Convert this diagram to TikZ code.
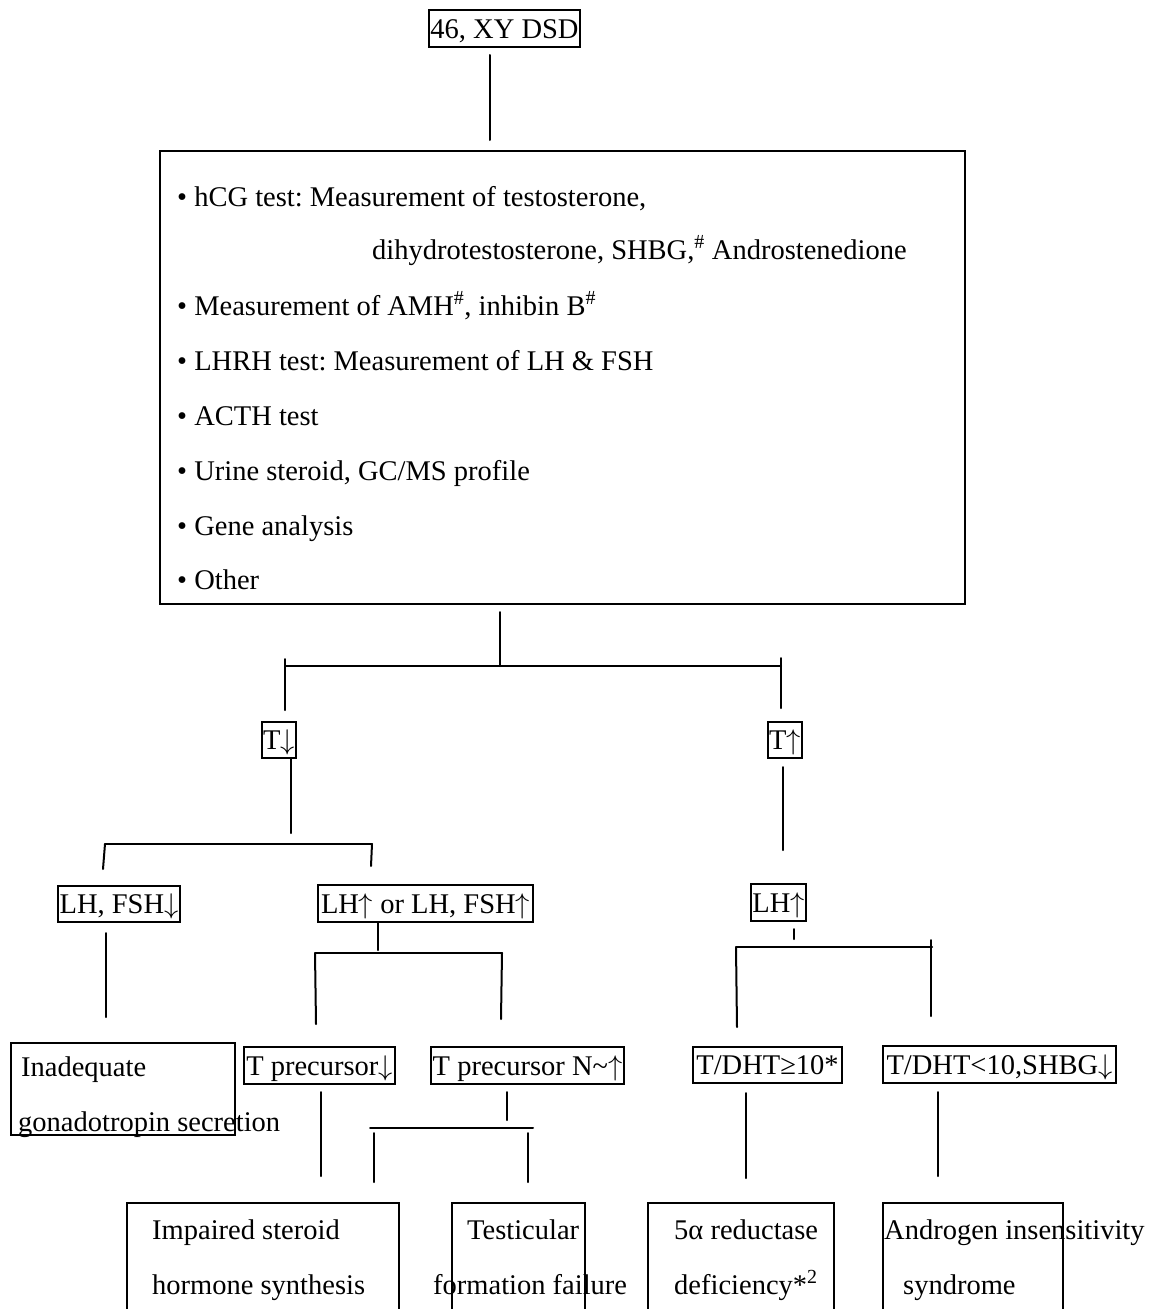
\RequirePackage{fix-cm}
\documentclass[tikz,border=0pt]{standalone}
\usepackage{fontspec}
\setmainfont{Liberation Serif}
\newcommand{\dn}{\ensuremath{\big\downarrow}}
\newcommand{\upa}{\ensuremath{\big\uparrow}}
\begin{document}
\frenchspacing
\begin{tikzpicture}[x=1pt,y=-1pt,
  ln/.style={line width=2pt, line cap=round},
  box/.style={draw, line width=2pt, inner sep=0pt, text height=22pt, text depth=3pt,
    font=\fontsize{28.5}{34}\selectfont},
  emptybox/.style={draw=none, inner sep=0pt},
  txt/.style={inner sep=0pt, anchor=base west, font=\fontsize{28.5}{34}\selectfont}]
\useasboundingbox (0,0) rectangle (1151,1309);
\clip (0,0) rectangle (1151,1309);

% ---------- top ----------
\node[box, minimum width=151, minimum height=37] (top) at (504.5,28.5) {46, XY DSD};

% ---------- tests box ----------
\node[box, minimum width=805, minimum height=453] (tests) at (562.5,377.5) {};
\node[txt] (l1) at (177,206) {• hCG test: Measurement of testosterone,};
\node[txt] (l2) at (372,259) {dihydrotestosterone, SHBG,\textsuperscript{\#} Androstenedione};
\node[txt] (l3) at (177,315) {• Measurement of AMH\textsuperscript{\#}, inhibin B\textsuperscript{\#}};
\node[txt] (l4) at (177,370) {• LHRH test: Measurement of LH \& FSH};
\node[txt] (l5) at (177,425) {• ACTH test};
\node[txt] (l6) at (177,480) {• Urine steroid, GC/MS profile};
\node[txt] (l7) at (177,535) {• Gene analysis};
\node[txt] (l8) at (177,589) {• Other};

% ---------- level T ----------
\node[box, minimum width=34, minimum height=36] (tlow) at (279,740) {T\dn};
\node[box, minimum width=34, minimum height=36] (thigh) at (785,740) {T\upa};

% ---------- level LH ----------
\node[box, minimum width=122, minimum height=36] (lhlow) at (119,904) {LH, FSH\dn};
\node[box, minimum width=215, minimum height=37] (lhup) at (425.5,903.5) {LH\upa{} or LH, FSH\upa};
\node[box, minimum width=55, minimum height=37] (lhr) at (778.5,902.5) {LH\upa};

% ---------- level 4 ----------
\node[box, minimum width=224, minimum height=92] (inad) at (123,1089) {};
\node[txt] (inad1) at (21,1076) {Inadequate};
\node[txt] (inad2) at (18,1131) {gonadotropin secretion};
\node[box, minimum width=151, minimum height=37] (tpl) at (319.5,1065.5) {T precursor\dn};
\node[box, minimum width=193, minimum height=37] (tpn) at (527.5,1065.5) {T precursor N\char"007E\upa};
\node[box, minimum width=149, minimum height=36] (dhtge) at (767.5,1065) {T/DHT≥10*};
\node[box, minimum width=233, minimum height=37] (dhtlt) at (999.5,1064.5) {T/DHT<10,SHBG\dn};

% ---------- bottom boxes (cut at bottom edge) ----------
\node[emptybox, minimum width=272, minimum height=117] (imp) at (263,1261.5) {};
\node[emptybox, minimum width=133, minimum height=117] (tfail) at (518.5,1261.5) {};
\node[emptybox, minimum width=186, minimum height=117] (red) at (741,1261.5) {};
\node[emptybox, minimum width=180, minimum height=117] (ais) at (973,1261.5) {};
\foreach \b in {imp,tfail,red,ais}
  \draw[ln, line cap=butt] (\b.south west) -- (\b.north west) -- (\b.north east) -- (\b.south east);
\node[txt] (imp1) at (152,1239) {Impaired steroid};
\node[txt] (imp2) at (152,1294) {hormone synthesis};
\node[txt] (tf1) at (467,1239) {Testicular};
\node[txt] (tf2) at (433,1294) {formation failure};
\node[txt] (red1) at (674,1239) {5α reductase};
\node[txt] (red2) at (674,1294) {deficiency*\textsuperscript{2}};
\node[txt] (ais1) at (884,1239) {Androgen insensitivity};
\node[txt] (ais2) at (903,1294) {syndrome};

% ---------- connector coordinates ----------
\coordinate (a1) at (490,55);   \coordinate (a2) at (490,140);
\coordinate (b1) at (500,612);  \coordinate (b2) at (500,666);
\coordinate (bl) at (285,666);  \coordinate (br) at (781,666);
\coordinate (blt) at (285,659); \coordinate (bld) at (285,710);
\coordinate (brt) at (781,658); \coordinate (brd) at (781,708);
\coordinate (c1) at (291,758);  \coordinate (c2) at (291,833);
\coordinate (cl) at (105,844);  \coordinate (cr) at (372,844);
\coordinate (cld) at (103,869); \coordinate (crd) at (371,866);
\coordinate (d1) at (783,767);  \coordinate (d2) at (783,850);
\coordinate (e1) at (105.5,933); \coordinate (e2) at (105.5,1017);
\coordinate (f1) at (378,922);  \coordinate (f2) at (378,950);
\coordinate (fl) at (315,953);  \coordinate (fr) at (502,953);
\coordinate (fld) at (316,1024); \coordinate (frd) at (501,1019);
\coordinate (g1) at (794,929);  \coordinate (g2) at (794,939);
\coordinate (gl) at (736,947);  \coordinate (gr) at (932,947);
\coordinate (gld) at (737,1027); \coordinate (grt) at (931,940); \coordinate (grd) at (931,1016);
\coordinate (h1) at (321,1092); \coordinate (h2) at (321,1176);
\coordinate (i1) at (507,1092); \coordinate (i2) at (507,1120);
\coordinate (il) at (370,1128); \coordinate (ir) at (533,1128);
\coordinate (ilt) at (374,1133); \coordinate (ild) at (374,1182);
\coordinate (irt) at (528,1133); \coordinate (ird) at (528,1182);
\coordinate (j1) at (746,1093); \coordinate (j2) at (746,1178);
\coordinate (k1) at (938,1092); \coordinate (k2) at (938,1176);

% ---------- connectors ----------
\draw[ln] (a1) -- (a2);
\draw[ln] (b1) -- (b2);
\draw[ln] (bl) -- (br);
\draw[ln] (blt) -- (bld);
\draw[ln] (brt) -- (brd);
\draw[ln] (c1) -- (c2);
\draw[ln] (cl) -- (cr);
\draw[ln] (cl) -- (cld);
\draw[ln] (cr) -- (crd);
\draw[ln] (d1) -- (d2);
\draw[ln] (e1) -- (e2);
\draw[ln] (f1) -- (f2);
\draw[ln] (fl) -- (fr);
\draw[ln] (fl) -- (fld);
\draw[ln] (fr) -- (frd);
\draw[ln] (g1) -- (g2);
\draw[ln] (gl) -- (gr);
\draw[ln] (gl) -- (gld);
\draw[ln] (grt) -- (grd);
\draw[ln] (h1) -- (h2);
\draw[ln] (i1) -- (i2);
\draw[ln] (il) -- (ir);
\draw[ln] (ilt) -- (ild);
\draw[ln] (irt) -- (ird);
\draw[ln] (j1) -- (j2);
\draw[ln] (k1) -- (k2);
\end{tikzpicture}
\end{document}
